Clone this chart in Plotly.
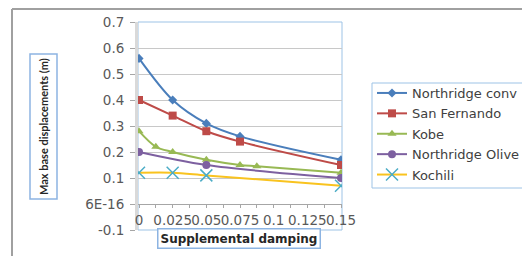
import plotly.graph_objects as go

# ---- data ----
x_conv = [0, 0.025, 0.05, 0.075, 0.15]
y_conv = [0.56, 0.40, 0.31, 0.26, 0.17]

x_sanf = [0, 0.025, 0.05, 0.075, 0.15]
y_sanf = [0.40, 0.34, 0.28, 0.24, 0.15]

x_kobe = [0, 0.0125, 0.025, 0.05, 0.075, 0.0875, 0.15]
y_kobe = [0.28, 0.22, 0.20, 0.17, 0.15, 0.145, 0.12]

x_olive = [0, 0.05, 0.15]
y_olive = [0.20, 0.15, 0.10]

x_koch = [0, 0.025, 0.05, 0.15]
y_koch = [0.12, 0.12, 0.11, 0.07]

x_tickvals = [0, 0.025, 0.05, 0.075, 0.1, 0.125, 0.15]
x_ticktext = ["0", "0.025", "0.05", "0.075", "0.1", "0.125", "0.15"]
y_tickvals = [-0.1, 0, 0.1, 0.2, 0.3, 0.4, 0.5, 0.6, 0.7]
y_ticktext = ["-0.1", "6E-16", "0.1", "0.2", "0.3", "0.4", "0.5", "0.6", "0.7"]

FONT = "DejaVu Sans"

fig = go.Figure()

def add(name, xs, ys, lcolor, mcolor, symbol, msize, group):
    fig.add_trace(go.Scatter(
        x=xs, y=ys, name=name, mode="lines+markers", legendgroup=group,
        line=dict(color=lcolor, width=2, shape="spline", smoothing=0.9),
        marker=dict(color=mcolor, symbol=symbol, size=msize,
                    line=dict(color=mcolor, width=1.5 if "open" in symbol else 0)),
    ))

add("Northridge conv", x_conv, y_conv, "#4A7EBB", "#4A7EBB", "diamond", 7, "a")
add("San Fernando", x_sanf, y_sanf, "#BE4B48", "#BE4B48", "square", 8, "b")
add("Kobe", x_kobe, y_kobe, "#98B954", "#98B954", "triangle-up", 8, "c")
add("Northridge Olive", x_olive, y_olive, "#7D60A0", "#7D60A0", "circle", 8, "d")
add("Kochili", x_koch, y_koch, "#F9C31F", "#4BACC6", "x-thin-open", 12, "e")

# page has an 8px body margin: work in page pixels, convert to figure pixels
OFF = 8
W, H = 530 - OFF, 256 - OFF
L, R, T, B = 138 - OFF, 342 - OFF, 22 - OFF, 230 - OFF
pw, ph = R - L, B - T

def px(xp):
    return (xp - OFF - L) / pw

def py(yp):
    return (B - (yp - OFF)) / ph

BOX = "#8DB4E2"

fig.update_layout(
    width=W, height=H,
    margin=dict(l=L, r=W - R, t=T, b=H - B, pad=0, autoexpand=False),
    paper_bgcolor="white", plot_bgcolor="white",
    font=dict(family=FONT, size=13, color="#595959"),
    showlegend=True,
    legend=dict(
        x=px(372), y=py(78), xanchor="left", yanchor="top",
        borderwidth=0, bgcolor="rgba(0,0,0,0)",
        font=dict(family=FONT, size=13, color="#404040"),
        tracegroupgap=0.5, itemwidth=30,
    ),
    xaxis=dict(
        range=[-0.00074, 0.15074], anchor="free", position=py(204),
        tickvals=x_tickvals, ticktext=x_ticktext, tickangle=0, automargin=False,
        showgrid=False, zeroline=False,
        showline=True, linecolor="#A6A6A6", linewidth=1,
        ticks="outside", ticklen=3, tickcolor="#A6A6A6",
        ticklabelstandoff=1,
        minor=dict(dtick=0.0125, tick0=0, ticks="outside", ticklen=3, tickcolor="#A6A6A6", showgrid=False),
        tickfont=dict(family=FONT, size=13.5, color="#595959"),
    ),
    yaxis=dict(
        range=[-0.1, 0.7], tickvals=y_tickvals, ticktext=y_ticktext, automargin=False,
        showgrid=True, gridcolor="#C8C8C8", gridwidth=1, zeroline=False,
        showline=True, linecolor="#D9D9D9", linewidth=3,
        ticks="outside", ticklen=5, tickcolor="#A6A6A6",
        ticklabelstandoff=3,
        tickfont=dict(family=FONT, size=13.5, color="#595959"),
    ),
    shapes=[
        dict(type="rect", xref="paper", yref="paper", x0=0, y0=0, x1=1, y1=1,
             line=dict(color="#9DC3E6", width=1), layer="below"),
        dict(type="line", xref="paper", yref="paper", x0=px(12), y0=py(9), x1=px(540), y1=py(9),
             line=dict(color="#A0A0A0", width=2)),
        dict(type="line", xref="paper", yref="paper", x0=px(12), y0=py(9), x1=px(12), y1=py(270),
             line=dict(color="#A0A0A0", width=2)),
        # legend frame
        dict(type="rect", xref="paper", yref="paper", x0=px(372), y0=py(188), x1=px(528), y1=py(83),
             line=dict(color="#9DC3E6", width=1), fillcolor="white", layer="below"),
        # y-title frame
        dict(type="rect", xref="paper", yref="paper", x0=px(30), y0=py(199), x1=px(57), y1=py(54),
             line=dict(color=BOX, width=1.5), fillcolor="white", layer="below"),
    ],
    annotations=[
        dict(text="<b>Max base displacements (m)</b>", textangle=-90,
             xref="paper", yref="paper", x=px(43.5), y=py(126.5), showarrow=False,
             xanchor="center", yanchor="middle",
             font=dict(family="Lato", size=11, color="#262626")),
        dict(text="<b>Supplemental damping</b>",
             xref="paper", yref="paper", x=px(238.5), y=py(238.5), showarrow=False,
             xanchor="center", yanchor="middle",
             font=dict(family=FONT, size=12, color="#262626"),
             bordercolor=BOX, borderwidth=1.5, borderpad=2, bgcolor="white"),
    ],
)

fig.write_html("out.html")
